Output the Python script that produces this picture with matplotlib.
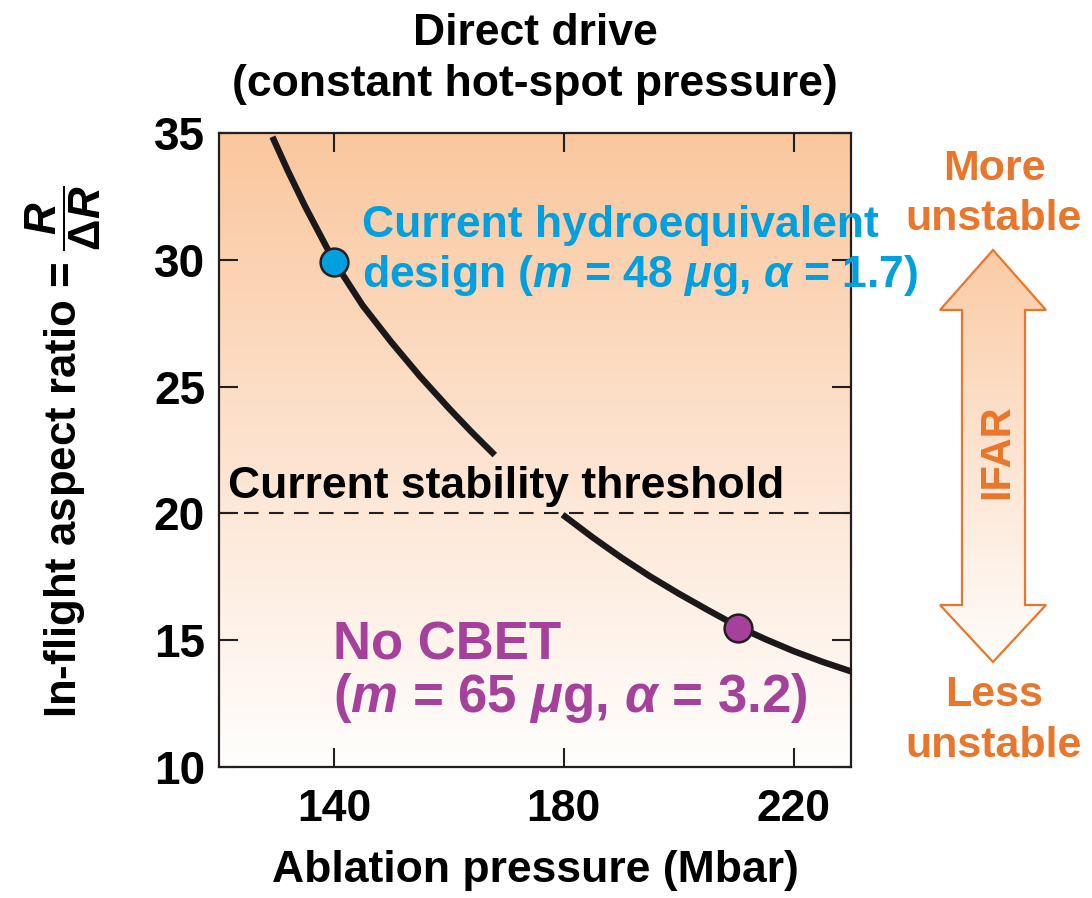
import numpy as np
import matplotlib
matplotlib.use("Agg")
import matplotlib.pyplot as plt
from matplotlib.colors import LinearSegmentedColormap
from matplotlib.patches import Polygon

# ---- data -------------------------------------------------------------
# IFAR vs ablation pressure along the constant hot-spot-pressure curve
# (NaN leaves the break behind the threshold label)
curve_pressure = [129.3, 132.0, 135.0, 140.0, 145.0, 150.0, 155.0, 160.0, 164.0, 168.0,
                  np.nan,
                  179.8, 185.0, 190.0, 195.0, 200.0, 205.0, 210.4, 215.0, 220.0, 225.0, 230.0]
curve_ifar = [34.85, 33.5, 32.1, 29.95, 28.2, 26.75, 25.4, 24.15, 23.2, 22.3,
              np.nan,
              19.95, 19.06, 18.26, 17.52, 16.84, 16.2, 15.53, 15.05, 14.57, 14.15, 13.77]

hydro_point = (140.0, 29.9)      # current hydroequivalent design
nocbet_point = (210.4, 15.5)     # no-CBET design
stability_threshold = 20.0

x_ticks = [140, 180, 220]
y_ticks = [10, 15, 20, 25, 30, 35]
x_limits = (120, 230)
y_limits = (10, 35)

# ---- styling ----------------------------------------------------------
FONT = "Liberation Sans"
plt.rcParams["font.family"] = [FONT, "DejaVu Sans"]
plt.rcParams["mathtext.fontset"] = "custom"
plt.rcParams["mathtext.rm"] = "Liberation Sans:bold"
plt.rcParams["mathtext.bf"] = "Liberation Sans:bold"
plt.rcParams["mathtext.it"] = "Liberation Sans:italic:bold"
plt.rcParams["mathtext.sf"] = "Liberation Sans:bold"

BLACK = "#231F20"
BLUE = "#009FDD"
MAGENTA = "#A5409B"
ORANGE = "#E8762C"
peach = LinearSegmentedColormap.from_list("peach", ["#FFFEFD", "#FDE3CF", "#FAC79E"])

W, H = 1092, 898
fig = plt.figure(figsize=(W / 100, H / 100), dpi=100)
ax = fig.add_axes([219 / W, 1 - 767 / H, (851 - 219) / W, (767 - 133) / H])

grad = np.linspace(1, 0, 256).reshape(-1, 1)
ax.imshow(grad, extent=[*x_limits, *y_limits], aspect="auto", cmap=peach,
          vmin=0, vmax=1, zorder=0, interpolation="bilinear")

ax.axhline(stability_threshold, color=BLACK, lw=1.5, dashes=(7, 5), zorder=2)
ax.plot(curve_pressure, curve_ifar, color="#1C1819", lw=4.6,
        solid_capstyle="butt", solid_joinstyle="round", zorder=3)
ax.plot(*hydro_point, "o", ms=20, mfc=BLUE, mec=BLACK, mew=1.8, zorder=4)
ax.plot(*nocbet_point, "o", ms=20, mfc=MAGENTA, mec=BLACK, mew=1.8, zorder=4)

ax.set_xlim(*x_limits)
ax.set_ylim(*y_limits)
ax.set_xticks(x_ticks)
ax.set_yticks(y_ticks)
for s in ax.spines.values():
    s.set_linewidth(1.6)
    s.set_color(BLACK)
ax.tick_params(direction="in", length=14, width=1.5, color=BLACK,
               top=True, right=True)
ax.tick_params(axis="x", pad=16)
ax.tick_params(axis="y", pad=10)
for lab in ax.get_xticklabels():
    lab.set_fontweight("bold")
    lab.set_fontsize(32)
for lab in ax.get_yticklabels():
    lab.set_fontweight("bold")
    lab.set_fontsize(33)

# ---- annotations inside the plot --------------------------------------
ax.text(121.6, 20.6, "Current stability threshold", fontsize=32,
        fontweight="bold", color="black", ha="left", va="baseline", zorder=5)

ax.text(144.9, 30.9, "Current hydroequivalent", fontsize=32,
        fontweight="bold", color=BLUE, ha="left", va="baseline", zorder=5)
ax.text(144.9, 28.93,
        r"design ($\mathit{m}$ = 48 $\mathit{\mu}$g, $\mathit{\alpha}$ = 1.7)",
        fontsize=32, fontweight="bold", color=BLUE, ha="left",
        va="baseline", zorder=5)

ax.text(139.9, 14.22, "No CBET", fontsize=38, fontweight="bold",
        color=MAGENTA, ha="left", va="baseline", zorder=5)
ax.text(139.9, 12.17,
        r"($\mathit{m}$ = 65 $\mathit{\mu}$g, $\mathit{\alpha}$ = 3.2)",
        fontsize=38, fontweight="bold", color=MAGENTA, ha="left",
        va="baseline", zorder=5)

# ---- titles and axis labels -------------------------------------------
def fx(px):
    return px / W


def fy(py):
    return 1 - py / H


fig.text(fx(535), fy(45), "Direct drive", fontweight="bold", fontsize=32,
         ha="center", va="baseline")
fig.text(fx(535), fy(96), "(constant hot-spot pressure)", fontweight="bold",
         fontsize=32, ha="center", va="baseline")
fig.text(fx(535), fy(882), "Ablation pressure (Mbar)", fontweight="bold",
         fontsize=32, ha="center", va="baseline")
fig.text(fx(63), fy(452),
         r"In-flight aspect ratio = $\dfrac{\mathit{R}}{\Delta\mathit{R}}$",
         fontweight="bold", fontsize=31.5, rotation=90, ha="center",
         va="center")

# ---- IFAR arrow with side labels ---------------------------------------
ov = fig.add_axes([0, 0, 1, 1])
ov.set_xlim(0, W)
ov.set_ylim(H, 0)
ov.axis("off")
arrow_pts = [(993, 250), (1046, 310), (1025, 310), (1025, 605), (1046, 605),
             (993, 662), (940, 605), (962, 605), (962, 310), (940, 310)]
arrow = Polygon(arrow_pts, closed=True, facecolor="none", edgecolor=ORANGE,
                lw=1.6, joinstyle="miter", zorder=3)
ov.add_patch(arrow)
fill = ov.imshow(np.linspace(0.92, 0.03, 256).reshape(-1, 1),
                 extent=[940, 1046, 662, 250], cmap=peach, vmin=0, vmax=1,
                 aspect="auto", zorder=2, interpolation="bilinear")
fill.set_clip_path(arrow)
ov.text(997, 452, "IFAR", fontweight="bold", fontsize=30, color=ORANGE,
        rotation=90, ha="center", va="center", zorder=4)

for txt, y in [("More", 180), ("unstable", 230), ("Less", 706), ("unstable", 757)]:
    ov.text(994, y, txt, fontsize=31, fontweight="bold", color=ORANGE,
            ha="center", va="baseline")

fig.savefig("out.png", dpi=100, facecolor="white")
